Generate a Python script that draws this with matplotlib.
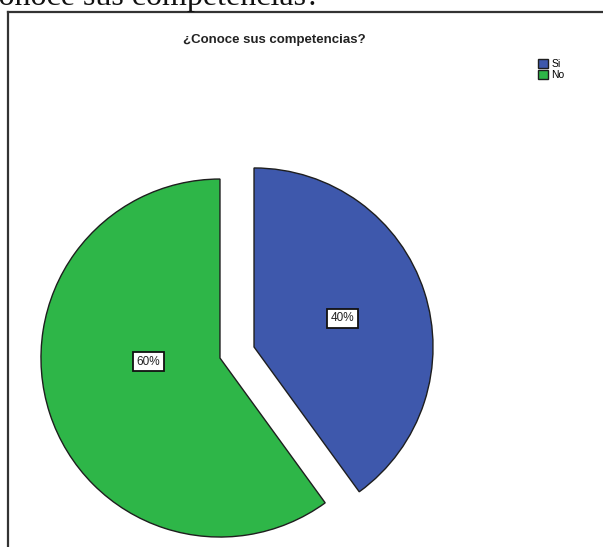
import matplotlib.pyplot as plt
from matplotlib.lines import Line2D

labels = ["Si", "No"]
shares = [40, 60]
colors = ["#3e58ac", "#2eb648"]
title = "¿Conoce sus competencias?"

W, H, DPI = 603, 547, 100
fig = plt.figure(figsize=(W / DPI, H / DPI), dpi=DPI)
fig.patch.set_facecolor("white")

# pie axes over the whole figure, 1 data unit = pie radius in px
R = 179.0
cx, cy = 237.0, H - 352.5
ax = fig.add_axes([0, 0, 1, 1])
wedges, texts, autotexts = ax.pie(
    shares, colors=colors, startangle=90, counterclock=False,
    explode=[0.1, 0.1], autopct="%d%%", pctdistance=0.52,
    wedgeprops=dict(edgecolor="#1e1e1e", linewidth=1.0),
    textprops=dict(fontsize=8.5, family="Liberation Sans", color="#222222"),
)
for t in autotexts:
    t.set_bbox(dict(boxstyle="square,pad=0.3", facecolor="white",
                    edgecolor="#111111", linewidth=1.3))
# the larger slice keeps its label nearer the horizontal
wx, wy = wedges[1].center
autotexts[1].set_position((wx - 0.40, wy - 0.02))

ax.set_aspect("auto")
ax.set_xlim(-cx / R, (W - cx) / R)
ax.set_ylim(-cy / R, (H - cy) / R)
ax.axis("off")

# frame around the chart (top and left edges)
px = lambda x, y: (x / W, 1 - y / H)
for (x0, y0), (x1, y1) in [((8, 12), (603, 12)), ((8, 12), (8, 547))]:
    a, b = px(x0, y0), px(x1, y1)
    fig.add_artist(Line2D([a[0], b[0]], [a[1], b[1]], color="#333333",
                          linewidth=1.6, transform=fig.transFigure))

# caption text running in from above
fig.text(320 / W, 1 - 5 / H, title, ha="right", va="baseline",
         family="Liberation Serif", fontsize=23, color="#111111")

fig.text(274 / W, 1 - 40 / H, title, ha="center", va="center",
         family="Liberation Sans", fontweight="bold", fontsize=9.5,
         color="#222222")

fig.legend(wedges, labels, loc="upper left", bbox_to_anchor=(531 / W, 1 - 52 / H),
           frameon=False, prop=dict(family="Liberation Sans", size=7.5),
           handlelength=0.95, handleheight=0.95, handletextpad=0.3,
           labelspacing=0.1, borderpad=0.2)

fig.savefig("out.png", dpi=DPI, facecolor="white")
